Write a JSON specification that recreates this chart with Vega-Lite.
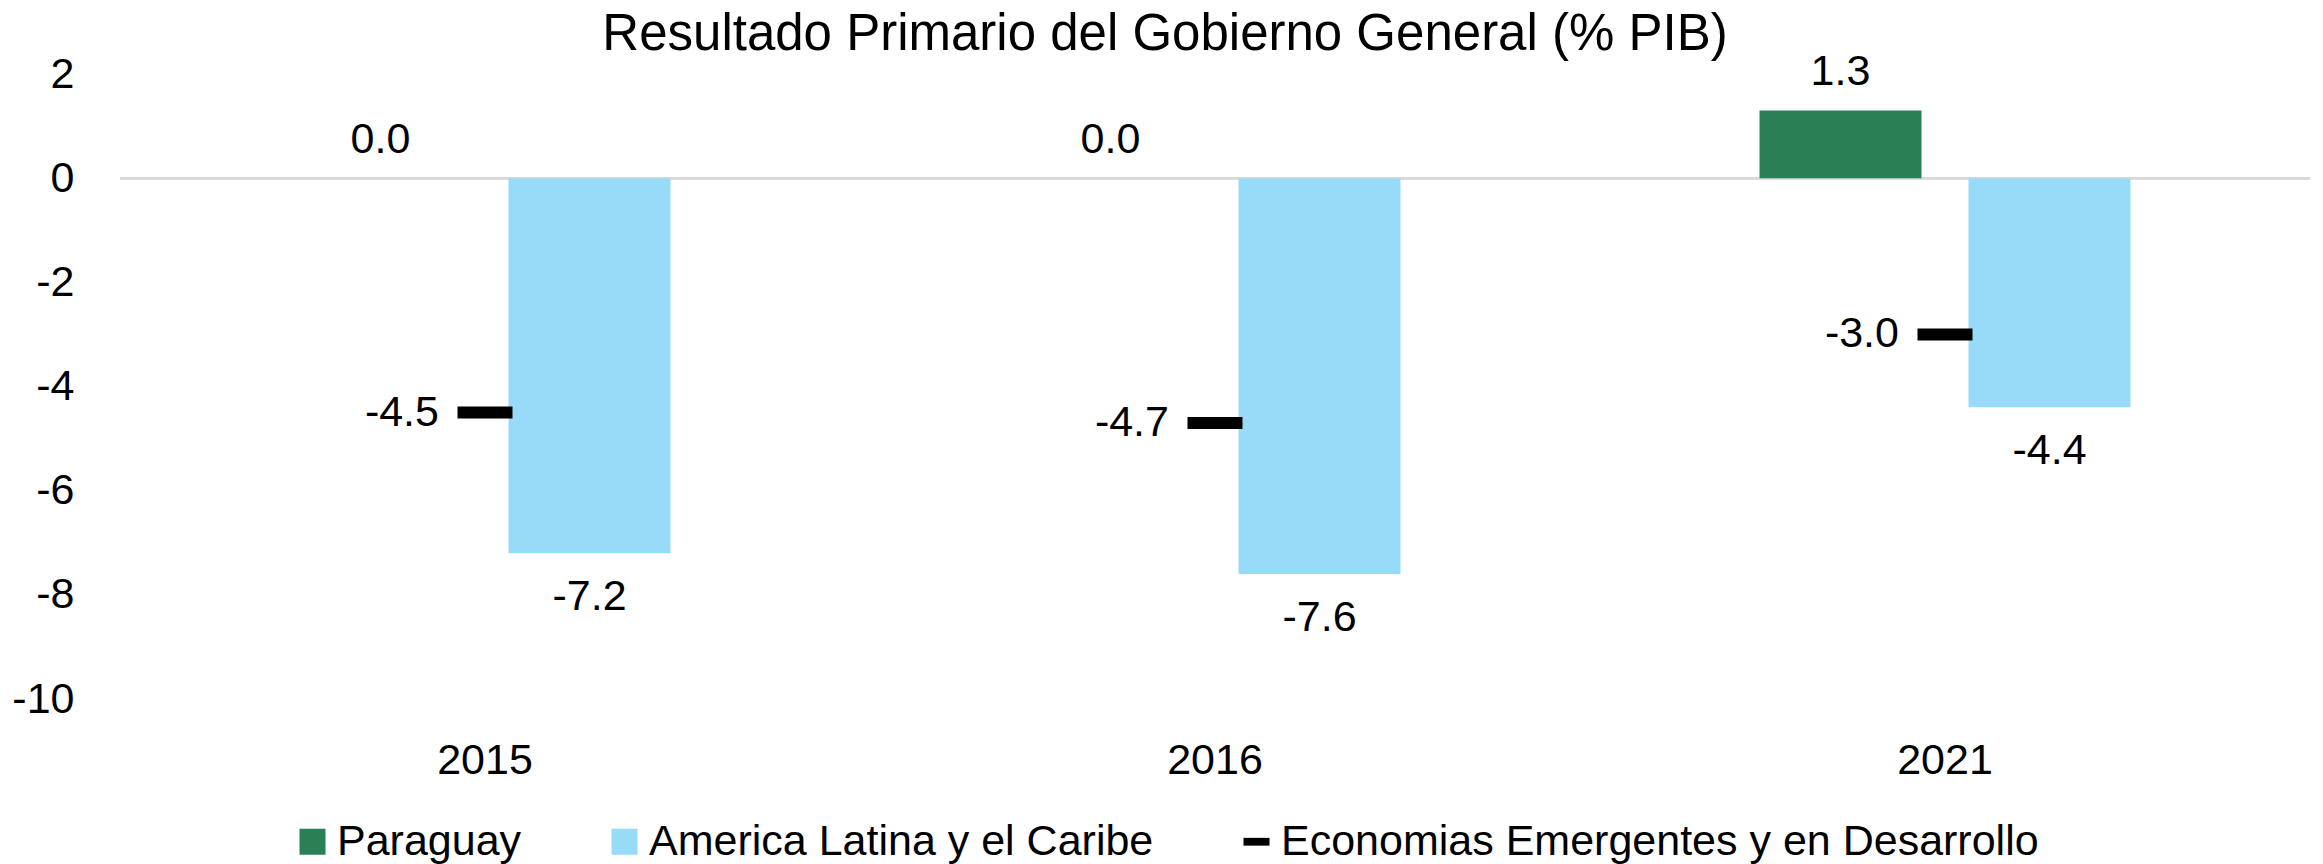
{
  "$schema": "https://vega.github.io/schema/vega-lite/v6.json",
  "width": 2190,
  "height": 625,
  "autosize": "none",
  "padding": {"left": 120, "top": 74, "right": 13, "bottom": 165},
  "background": "white",
  "config": {
    "view": {"stroke": null},
    "font": "Liberation Sans",
    "locale": {"number": {"decimal": ".", "thousands": ",", "grouping": [3], "currency": ["$", ""], "minus": "-"}},
    "text": {"font": "Liberation Sans", "fontSize": 43, "color": "#000000"}
  },
  "title": {
    "text": "Resultado Primario del Gobierno General (% PIB)",
    "font": "Liberation Sans",
    "fontSize": 51,
    "fontWeight": "normal",
    "color": "#000000",
    "anchor": "middle",
    "frame": "group",
    "baseline": "alphabetic",
    "offset": -50,
    "dx": -50
  },
  "data": {
    "values": [
      {"year": "2015", "serie": "Paraguay", "value": 0.0},
      {"year": "2016", "serie": "Paraguay", "value": 0.0},
      {"year": "2021", "serie": "Paraguay", "value": 1.3},
      {"year": "2015", "serie": "America Latina y el Caribe", "value": -7.2},
      {"year": "2016", "serie": "America Latina y el Caribe", "value": -7.6},
      {"year": "2021", "serie": "America Latina y el Caribe", "value": -4.4},
      {"year": "2015", "serie": "Economias Emergentes y en Desarrollo", "value": -4.5},
      {"year": "2016", "serie": "Economias Emergentes y en Desarrollo", "value": -4.7},
      {"year": "2021", "serie": "Economias Emergentes y en Desarrollo", "value": -3.0}
    ]
  },
  "encoding": {
    "x": {
      "field": "year",
      "type": "nominal",
      "scale": {"paddingInner": 0, "paddingOuter": 0},
      "axis": {
        "title": null,
        "domain": false,
        "ticks": false,
        "tickSize": 0,
        "labelAngle": 0,
        "labelFont": "Liberation Sans",
        "labelFontSize": 43,
        "labelColor": "#000000",
        "labelBaseline": "alphabetic",
        "labelPadding": 74
      }
    },
    "y": {
      "field": "value",
      "type": "quantitative",
      "scale": {"domain": [-10, 2], "nice": false, "zero": false},
      "axis": {
        "title": null,
        "domain": false,
        "ticks": false,
        "tickSize": 0,
        "grid": false,
        "values": [2, 0, -2, -4, -6, -8, -10],
        "format": "d",
        "labelFont": "Liberation Sans",
        "labelFontSize": 43,
        "labelColor": "#000000",
        "labelPadding": 46
      }
    }
  },
  "layer": [
    {
      "mark": {"type": "rule", "color": "#D9D9D9", "strokeWidth": 2},
      "encoding": {"y": {"datum": 0}, "x": null}
    },
    {
      "transform": [{"filter": "datum.serie !== 'Economias Emergentes y en Desarrollo'"}],
      "mark": {"type": "bar"},
      "encoding": {
        "xOffset": {
          "field": "serie",
          "type": "nominal",
          "sort": ["Paraguay", "America Latina y el Caribe"],
          "scale": {"domain": ["Paraguay", "America Latina y el Caribe"], "paddingInner": 0.225, "paddingOuter": 0.859}
        },
        "color": {
          "field": "serie",
          "type": "nominal",
          "scale": {
            "domain": ["Paraguay", "America Latina y el Caribe", "Economias Emergentes y en Desarrollo"],
            "range": ["#2A7F55", "#97DBF9", "#000000"]
          },
          "legend": {
            "orient": "none",
            "legendX": 171,
            "legendY": 746,
            "direction": "horizontal",
            "title": null,
            "padding": 0,
            "labelFont": "Liberation Sans",
            "labelFontSize": 43,
            "labelColor": "#000000",
            "labelLimit": 2000,
            "labelOffset": 3,
            "columnPadding": 81,
            "symbolSize": 676,
            "symbolStrokeWidth": 0,
            "symbolType": "square",
            "symbolOpacity": 1,
            "encode": {
              "symbols": {
                "update": {
                  "shape": {"signal": "datum.value === 'Economias Emergentes y en Desarrollo' ? 'M-1,-0.3L1,-0.3L1,0.3L-1,0.3Z' : 'square'"}
                }
              }
            }
          }
        }
      }
    },
    {
      "transform": [{"filter": "datum.serie === 'Paraguay'"}],
      "mark": {"type": "text", "baseline": "alphabetic", "dy": -25, "align": "center"},
      "encoding": {
        "xOffset": {
          "field": "serie",
          "type": "nominal",
          "scale": {"domain": ["Paraguay", "America Latina y el Caribe"], "paddingInner": 0.225, "paddingOuter": 0.859}
        },
        "text": {"field": "value", "type": "quantitative", "format": ".1f"}
      }
    },
    {
      "transform": [{"filter": "datum.serie === 'America Latina y el Caribe'"}],
      "mark": {"type": "text", "baseline": "alphabetic", "dy": 57, "align": "center"},
      "encoding": {
        "xOffset": {
          "field": "serie",
          "type": "nominal",
          "scale": {"domain": ["Paraguay", "America Latina y el Caribe"], "paddingInner": 0.225, "paddingOuter": 0.859}
        },
        "text": {"field": "value", "type": "quantitative", "format": ".1f"}
      }
    },
    {
      "transform": [{"filter": "datum.serie === 'Economias Emergentes y en Desarrollo'"}],
      "mark": {"type": "tick", "size": 55, "thickness": 12, "opacity": 1},
      "encoding": {
        "color": {"field": "serie", "type": "nominal"}
      }
    },
    {
      "transform": [{"filter": "datum.serie === 'Economias Emergentes y en Desarrollo'"}],
      "mark": {"type": "text", "baseline": "middle", "align": "right", "dx": -46},
      "encoding": {
        "text": {"field": "value", "type": "quantitative", "format": ".1f"}
      }
    }
  ]
}
